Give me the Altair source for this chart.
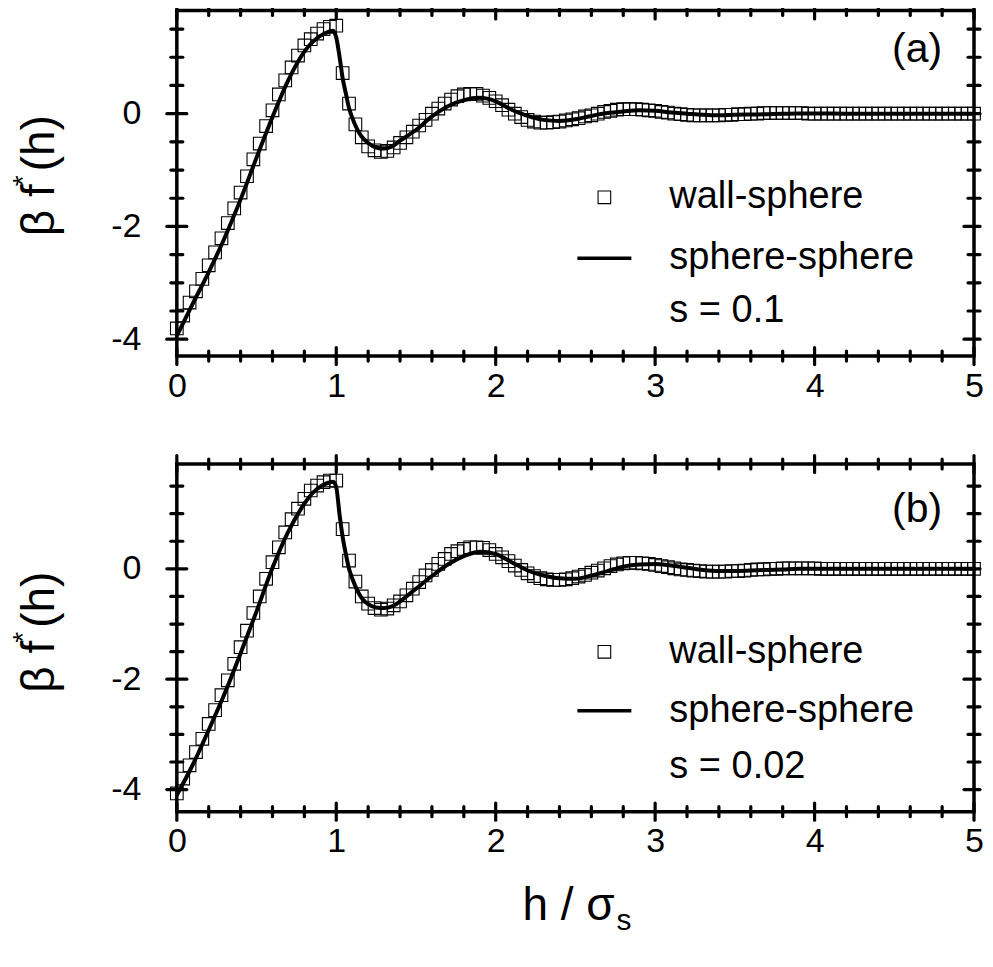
import altair as alt
import pandas as pd

FONT = "Liberation Sans"

# ---------------- data ----------------
H_SQ = [0.00, 0.04, 0.08, 0.12, 0.16, 0.20, 0.24, 0.28, 0.32, 0.36,
        0.40, 0.44, 0.48, 0.52, 0.56, 0.60, 0.64, 0.68, 0.72, 0.76,
        0.80, 0.84, 0.88, 0.92, 0.96, 1.00, 1.04, 1.08, 1.12, 1.16,
        1.20, 1.24, 1.28, 1.32, 1.36, 1.40, 1.44, 1.48, 1.52, 1.56,
        1.60, 1.64, 1.68, 1.72, 1.76, 1.80, 1.84, 1.88, 1.92, 1.96,
        2.00, 2.04, 2.08, 2.12, 2.16, 2.20, 2.24, 2.28, 2.32, 2.36,
        2.40, 2.44, 2.48, 2.52, 2.56, 2.60, 2.64, 2.68, 2.72, 2.76,
        2.80, 2.84, 2.88, 2.92, 2.96, 3.00, 3.04, 3.08, 3.12, 3.16,
        3.20, 3.24, 3.28, 3.32, 3.36, 3.40, 3.44, 3.48, 3.52, 3.56,
        3.60, 3.64, 3.68, 3.72, 3.76, 3.80, 3.84, 3.88, 3.92, 3.96,
        4.00, 4.04, 4.08, 4.12, 4.16, 4.20, 4.24, 4.28, 4.32, 4.36,
        4.40, 4.44, 4.48, 4.52, 4.56, 4.60, 4.64, 4.68, 4.72, 4.76,
        4.80, 4.84, 4.88, 4.92, 4.96, 5.00]

# wall-sphere, panel (a), s = 0.1
SQ_A = [-3.81, -3.58, -3.35, -3.15, -2.93, -2.69, -2.46, -2.21, -1.94, -1.68,
        -1.40, -1.11, -0.81, -0.53, -0.22, 0.06, 0.34, 0.59, 0.82, 1.03,
        1.21, 1.32, 1.42, 1.50, 1.54, 1.56, 0.72, 0.18, -0.19, -0.42,
        -0.58, -0.65, -0.68, -0.66, -0.60, -0.52, -0.42, -0.32, -0.21, -0.11,
        0.00, 0.09, 0.18, 0.25, 0.31, 0.34, 0.35, 0.35, 0.32, 0.28,
        0.22, 0.15, 0.07, 0.00, -0.06, -0.11, -0.14, -0.16, -0.16, -0.15,
        -0.14, -0.12, -0.10, -0.08, -0.05, -0.03, 0.00, 0.03, 0.05, 0.07,
        0.08, 0.08, 0.08, 0.07, 0.06, 0.05, 0.03, 0.02, 0.00, -0.01,
        -0.02, -0.03, -0.03, -0.03, -0.03, -0.03, -0.02, -0.02, -0.01, -0.01,
        0.00, 0.00, 0.01, 0.01, 0.01, 0.01, 0.01, 0.01, 0.01, 0.00,
        0.00, 0.00, 0.00, 0.00, 0.00, 0.00, 0.00, 0.00, 0.00, 0.00,
        0.00, 0.00, 0.00, 0.00, 0.00, 0.00, 0.00, 0.00, 0.00, 0.00,
        0.00, 0.00, 0.00, 0.00, 0.00, 0.00]

# wall-sphere, panel (b), s = 0.02
SQ_B = [-4.07, -3.80, -3.56, -3.32, -3.08, -2.81, -2.56, -2.29, -2.02, -1.72,
        -1.42, -1.12, -0.80, -0.50, -0.18, 0.12, 0.39, 0.66, 0.90, 1.09,
        1.27, 1.42, 1.51, 1.57, 1.60, 1.60, 0.72, 0.15, -0.23, -0.50,
        -0.63, -0.71, -0.74, -0.72, -0.66, -0.59, -0.48, -0.36, -0.24, -0.12,
        -0.02, 0.09, 0.18, 0.27, 0.32, 0.36, 0.39, 0.39, 0.38, 0.34,
        0.27, 0.21, 0.14, 0.06, -0.02, -0.08, -0.13, -0.17, -0.19, -0.20,
        -0.20, -0.19, -0.17, -0.14, -0.11, -0.07, -0.03, 0.01, 0.05, 0.08,
        0.10, 0.11, 0.11, 0.10, 0.09, 0.07, 0.05, 0.03, 0.01, -0.01,
        -0.02, -0.03, -0.04, -0.05, -0.05, -0.05, -0.05, -0.04, -0.04, -0.03,
        -0.02, -0.01, -0.01, 0.00, 0.00, 0.01, 0.01, 0.01, 0.01, 0.01,
        0.01, 0.00, 0.00, 0.00, 0.00, 0.00, 0.00, 0.00, 0.00, 0.00,
        0.00, 0.00, 0.00, 0.00, 0.00, 0.00, 0.00, 0.00, 0.00, 0.00,
        0.00, 0.00, 0.00, 0.00, 0.00, 0.00]

# sphere-sphere curves
H_LN = [0.0, 0.1, 0.2, 0.3, 0.4, 0.5, 0.6, 0.7, 0.8, 0.85,
        0.9, 0.95, 0.98, 1.0, 1.02, 1.04, 1.06, 1.08, 1.1, 1.13,
        1.16, 1.2, 1.25, 1.3, 1.35, 1.4, 1.5, 1.6, 1.7, 1.8,
        1.9, 2.0, 2.1, 2.2, 2.3, 2.4, 2.5, 2.6, 2.7, 2.8,
        2.9, 3.0, 3.1, 3.2, 3.3, 3.4, 3.5, 3.6, 3.7, 3.8,
        3.9, 4.0, 4.2, 4.4, 4.6, 4.8, 5.0]

LN_A = [-3.94, -3.37, -2.81, -2.20, -1.52, -0.78, -0.06, 0.60, 1.10, 1.27,
        1.38, 1.45, 1.47, 1.35, 1.02, 0.63, 0.36, 0.10, -0.07, -0.27,
        -0.41, -0.52, -0.60, -0.62, -0.58, -0.48, -0.29, -0.05, 0.13, 0.24,
        0.28, 0.22, 0.07, -0.04, -0.11, -0.13, -0.10, -0.04, 0.01, 0.04,
        0.06, 0.05, 0.02, 0.00, -0.02, -0.03, -0.02, -0.015, -0.01, 0.00,
        0.005, 0.005, 0.00, 0.00, 0.00, 0.00, 0.00]

LN_B = [-4.10, -3.55, -2.92, -2.26, -1.53, -0.77, 0.02, 0.68, 1.18, 1.37,
        1.49, 1.56, 1.58, 1.48, 1.00, 0.58, 0.27, 0.00, -0.17, -0.38,
        -0.53, -0.64, -0.70, -0.71, -0.68, -0.59, -0.36, -0.13, 0.08, 0.23,
        0.31, 0.27, 0.12, -0.03, -0.12, -0.17, -0.18, -0.12, -0.04, 0.04,
        0.08, 0.09, 0.06, 0.02, -0.02, -0.04, -0.04, -0.03, -0.02, -0.01,
        0.00, 0.00, 0.00, 0.00, 0.00, 0.00, 0.00]

# axes
X_LABELS = [0, 1, 2, 3, 4, 5]
X_MINOR = [0.2, 0.4, 0.6, 0.8, 1.2, 1.4, 1.6, 1.8, 2.2, 2.4, 2.6, 2.8,
           3.2, 3.4, 3.6, 3.8, 4.2, 4.4, 4.6, 4.8]
Y_LABELS = [-4, -2, 0]
Y_MINOR = [-3.5, -3, -2.5, -1.5, -1, -0.5, 0.5, 1, 1.5]

W = 798


def panel(sq_v, ln_v, ydom, H, tag, s_label, leg_ys, tag_y, ytitle_dy, xtitle):
    xs = alt.Scale(domain=[0, 5], nice=False, zero=False)
    ys = alt.Scale(domain=ydom, nice=False, zero=False)
    xaxis = alt.Axis(values=X_LABELS, ticks=False, domain=False, grid=False,
                     labelPadding=13, labelFontSize=34, labelFont=FONT,
                     labelColor="black", title=None, labelFlush=False,
                     labelExpr="'' + datum.value")
    yaxis = alt.Axis(values=Y_LABELS, ticks=False, domain=False, grid=False,
                     labelPadding=36, labelFontSize=34, labelFont=FONT,
                     labelColor="black", title=None,
                     labelExpr="'' + datum.value")

    def X():
        return alt.X("h:Q", scale=xs, axis=xaxis)

    def Y():
        return alt.Y("v:Q", scale=ys, axis=yaxis)

    sq_df = pd.DataFrame({"h": H_SQ, "v": sq_v})
    ln_df = pd.DataFrame({"h": H_LN, "v": ln_v})

    squares = alt.Chart(sq_df).mark_point(
        shape="square", size=160, filled=False, color="black",
        strokeWidth=1.1, opacity=1, clip=False
    ).encode(x=X(), y=Y())

    line = alt.Chart(ln_df).mark_line(
        color="black", strokeWidth=4, interpolate="monotone"
    ).encode(x=X(), y=Y())

    layers = [squares, line]

    def xt(vals, half):
        out = []
        for yy in (0, H):
            out.append(alt.Chart(pd.DataFrame({"h": vals})).mark_rule(
                color="black", strokeWidth=3.2, strokeCap="round"
            ).encode(x=X(), y=alt.value(yy - half), y2=alt.value(yy + half)))
        return out

    def yt(vals, inner, outer):
        left = alt.Chart(pd.DataFrame({"v": vals})).mark_rule(
            color="black", strokeWidth=3.2, strokeCap="round"
        ).encode(y=Y(), x=alt.value(-outer), x2=alt.value(inner))
        right = alt.Chart(pd.DataFrame({"v": vals})).mark_rule(
            color="black", strokeWidth=3.2, strokeCap="round"
        ).encode(y=Y(), x=alt.value(W - inner), x2=alt.value(W + min(outer, 6)))
        return [left, right]

    layers += xt(X_LABELS, 8.5) + xt(X_MINOR, 5)
    layers += yt(Y_LABELS, 10, 10) + yt(Y_MINOR, 6, 6)

    one = pd.DataFrame({"k": [0]})

    def txt(s, x, y, size, align="left", baseline="middle", angle=0):
        return alt.Chart(one).mark_text(
            font=FONT, fontSize=size, align=align, baseline=baseline,
            angle=angle, color="black"
        ).encode(x=alt.value(x), y=alt.value(y), text=alt.value(s))

    # legend
    layers.append(alt.Chart(one).mark_point(
        shape="square", size=160, filled=False, color="black",
        strokeWidth=1.1, opacity=1
    ).encode(x=alt.value(428), y=alt.value(leg_ys[0])))
    layers.append(alt.Chart(one).mark_rule(color="black", strokeWidth=3.5).encode(
        x=alt.value(401), x2=alt.value(455), y=alt.value(leg_ys[1])))
    layers.append(txt("wall-sphere", 493, leg_ys[0], 38))
    layers.append(txt("sphere-sphere", 493, leg_ys[1], 38))
    layers.append(txt(s_label, 493, leg_ys[2], 38))
    layers.append(txt(tag, 741, tag_y, 41, align="center"))

    # y title  beta f*(h)
    d = ytitle_dy
    layers.append(txt("\u03b2 f", -123, 226 + d, 46, baseline="alphabetic", angle=270))
    layers.append(txt("*", -145, 176 + d, 28, baseline="alphabetic", angle=270))
    layers.append(txt("(h)", -123, 161 + d, 46, baseline="alphabetic", angle=270))

    if xtitle:
        layers.append(txt("h / \u03c3", 346, 456, 46, baseline="alphabetic"))
        layers.append(txt("s", 440, 466, 30, baseline="alphabetic"))

    return alt.layer(*layers).properties(width=W, height=H)


top = panel(SQ_A, LN_A, [-4.3, 1.83], 346, "(a)", "s = 0.1",
            [187, 248, 301], 40, 0, False)
bottom = panel(SQ_B, LN_B, [-4.4, 1.9], 348, "(b)", "s = 0.02",
               [188, 247, 303], 46, 3, True)

chart = alt.vconcat(top, bottom, spacing=108, bounds="flush").configure_view(
    stroke="black", strokeWidth=3.5
).properties(padding={"left": 0, "top": -10, "right": -1, "bottom": 0})

chart.save("out.html", embed_options={"renderer": "svg", "actions": False})
